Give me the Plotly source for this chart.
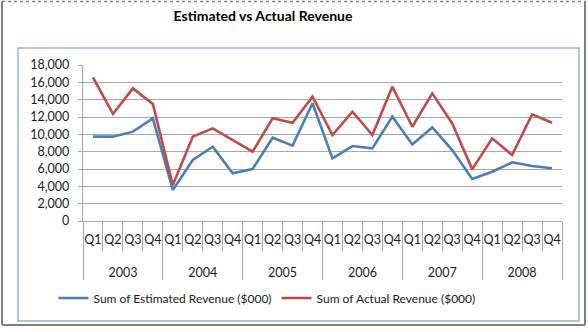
import plotly.graph_objects as go

# Quarterly revenue figures ($000)
years = ["2003", "2004", "2005", "2006", "2007", "2008"]
quarters = ["Q1", "Q2", "Q3", "Q4"]
estimated = [9730, 9730, 10310, 11850,
             3580, 7040, 8570, 5500,
             6000, 9610, 8700, 13580,
             7230, 8650, 8380, 12040,
             8840, 10800, 8190, 4850,
             5690, 6770, 6350, 6080]
actual = [16580, 12350, 15300, 13500,
          4150, 9730, 10690, 9350,
          8000, 11850, 11340, 14340,
          9920, 12610, 9920, 15500,
          10880, 14730, 11260, 5960,
          9540, 7620, 12310, 11340]
y_ticks = list(range(0, 18001, 2000))

periods = [f"{y} {q}" for y in years for q in quarters]
period_labels = [q for _ in years for q in quarters]
nq = len(quarters)
n = len(periods)
# positions on the category index scale
year_centres = [i * nq + (nq - 1) / 2 for i in range(len(years))]
year_bounds = [i * nq - 0.5 for i in range(len(years) + 1)]
quarter_bounds = [i - 0.5 for i in range(n + 1)]

W, H = 588, 332
ML, MR, MT, MB = 83, 26, 65, 111
PW, PH = W - ML - MR, H - MT - MB


def px(x):
    return (x - ML) / PW


def py(y):
    return (H - MB - y) / PH


FONT = "Lato, 'Liberation Sans', Arial, sans-serif"
GRID = "#a8a8a8"
TXT = "#1a1a1a"

fig = go.Figure()
fig.add_trace(go.Scatter(
    x=periods, y=estimated, mode="lines",
    name="Sum of Estimated Revenue ($000)",
    line=dict(color="#4a7ebb", width=2.6),
))
fig.add_trace(go.Scatter(
    x=periods, y=actual, mode="lines",
    name="Sum of Actual Revenue ($000)",
    line=dict(color="#be4b48", width=2.6),
))
# invisible carriers so the helper axes are drawn
for ax in ("x2", "x3"):
    fig.add_trace(go.Scatter(
        x=[-0.5, n - 0.5], y=[None, None], xaxis=ax, yaxis="y",
        mode="lines", showlegend=False, hoverinfo="skip",
    ))

shapes = [
    # chart area frame
    dict(type="rect", xref="paper", yref="paper",
         x0=px(18), x1=px(579), y0=py(321), y1=py(48),
         line=dict(color="#95b3d7", width=1.5), layer="below"),
    # outer frame
    dict(type="line", xref="paper", yref="paper",
         x0=px(2), x1=px(2), y0=py(1), y1=py(325),
         line=dict(color="#7f7f7f", width=2)),
    dict(type="line", xref="paper", yref="paper",
         x0=px(585), x1=px(585), y0=py(1), y1=py(325),
         line=dict(color="#7f7f7f", width=2)),
    dict(type="line", xref="paper", yref="paper",
         x0=px(2), x1=px(585), y0=py(325), y1=py(325),
         line=dict(color="#7f7f7f", width=2)),
    dict(type="line", xref="paper", yref="paper",
         x0=px(2), x1=px(585), y0=py(1.5), y1=py(1.5),
         line=dict(color="#7f7f7f", width=1.5, dash="dot")),
]

fig.update_layout(
    width=W, height=H,
    margin=dict(l=ML, r=MR, t=MT, b=MB),
    paper_bgcolor="white", plot_bgcolor="white",
    font=dict(family=FONT, size=12, color=TXT),
    title=dict(text="<b>Estimated vs Actual Revenue</b>",
               x=263 / W, xanchor="center", y=1 - 16 / H, yanchor="middle",
               font=dict(family=FONT, size=14, color="#000000")),
    showlegend=True,
    legend=dict(orientation="h", x=px(267), xanchor="center",
                y=py(298), yanchor="middle",
                font=dict(family=FONT, size=12, color=TXT),
                itemwidth=30, tracegroupgap=0),
    shapes=shapes,
    yaxis=dict(
        range=[0, 18000], tickvals=y_ticks, tickformat=",d",
        showgrid=True, gridcolor=GRID, gridwidth=1.3,
        showline=True, linecolor=GRID, linewidth=1.3,
        ticks="outside", ticklen=4, tickcolor=GRID,
        ticklabelstandoff=6,
        tickfont=dict(family=FONT, size=12.5, color=TXT),
        zeroline=False, fixedrange=True,
    ),
    # quarter labels
    xaxis=dict(
        type="category", range=[-0.5, n - 0.5],
        tickvals=periods, ticktext=period_labels, tickangle=0,
        showgrid=False, showline=True, linecolor=GRID, linewidth=1.3,
        ticks="", ticklabelstandoff=7,
        tickfont=dict(family=FONT, size=12.5, color=TXT),
        fixedrange=True,
    ),
    # year labels with long separators between years
    xaxis2=dict(
        overlaying="x", anchor="y", side="bottom",
        type="linear", range=[-0.5, n - 0.5],
        tickvals=year_centres, ticktext=years, tickangle=0,
        ticks="", showgrid=False, showline=False, zeroline=False,
        ticklabelstandoff=42,
        tickfont=dict(family=FONT, size=12.5, color=TXT),
        minor=dict(tickvals=year_bounds, ticks="outside", ticklen=58,
                   tickcolor=GRID, tickwidth=1.3, showgrid=False),
        fixedrange=True,
    ),
    # short separators between quarters
    xaxis3=dict(
        overlaying="x", anchor="y", side="bottom",
        type="linear", range=[-0.5, n - 0.5],
        tickvals=quarter_bounds, showticklabels=False,
        ticks="outside", ticklen=29, tickcolor=GRID, tickwidth=1.3,
        showgrid=False, showline=False, zeroline=False,
        fixedrange=True,
    ),
)

fig.write_html("out.html")
